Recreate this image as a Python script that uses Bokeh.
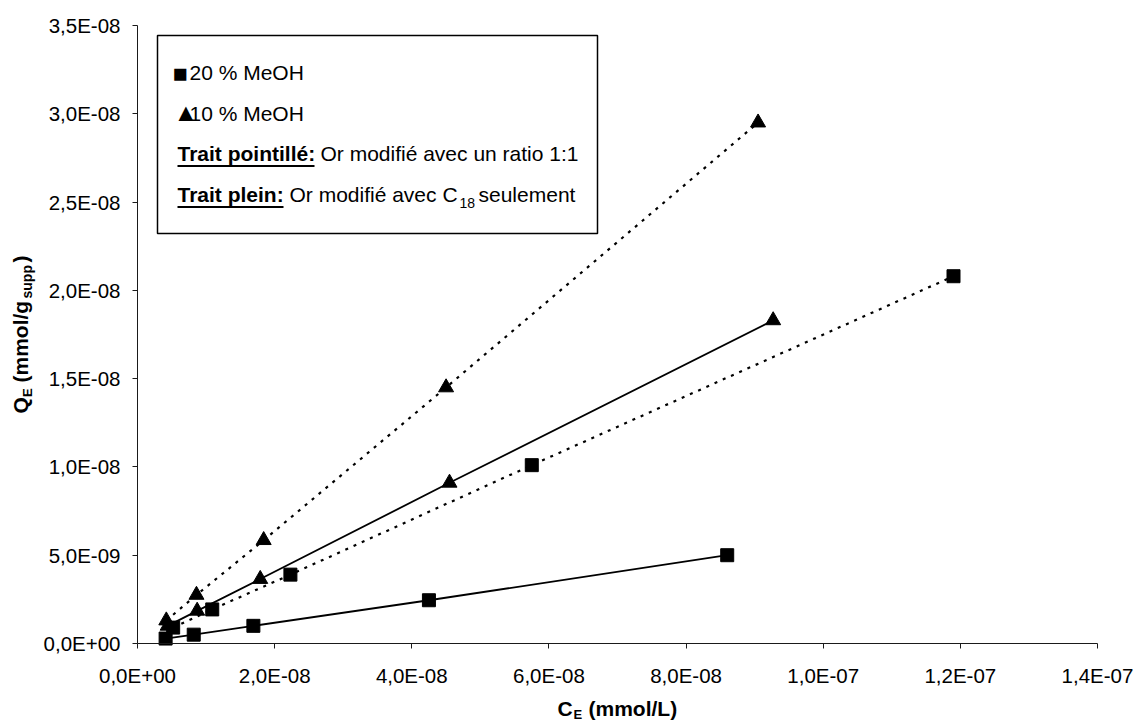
import math

from bokeh.plotting import figure
from bokeh.models import (Range1d, FixedTicker, CustomJSTickFormatter, Label,
                          BoxAnnotation)
from bokeh.embed import file_html
from bokeh.resources import INLINE

# Adsorption isotherms: equilibrium concentration C_E (mmol/L) vs Q_E (mmol/g_supp)
# 20 % MeOH (squares), gold modified with C18 only (solid line)
sq_c18_ce = [4.1e-9, 8.2e-9, 1.69e-8, 4.25e-8, 8.6e-8]
sq_c18_qe = [2.8e-10, 5.0e-10, 1.0e-9, 2.45e-9, 5.0e-9]
# 20 % MeOH (squares), gold modified with a 1:1 ratio (dotted line)
sq_mix_ce = [5.2e-9, 1.09e-8, 2.23e-8, 5.75e-8, 1.19e-7]
sq_mix_qe = [9.0e-10, 1.93e-9, 3.9e-9, 1.01e-8, 2.08e-8]
# 10 % MeOH (triangles), gold modified with C18 only (solid line)
tri_c18_ce = [4.4e-9, 8.7e-9, 1.79e-8, 4.55e-8, 9.27e-8]
tri_c18_qe = [1.0e-9, 1.85e-9, 3.65e-9, 9.1e-9, 1.83e-8]
# 10 % MeOH (triangles), gold modified with a 1:1 ratio (dotted line)
tri_mix_ce = [4.2e-9, 8.6e-9, 1.84e-8, 4.5e-8, 9.05e-8]
tri_mix_qe = [1.3e-9, 2.75e-9, 5.85e-9, 1.45e-8, 2.95e-8]

x_ticks = [0.0, 2e-8, 4e-8, 6e-8, 8e-8, 1e-7, 1.2e-7, 1.4e-7]
x_tick_labels = ["0,0E+00", "2,0E-08", "4,0E-08", "6,0E-08", "8,0E-08",
                 "1,0E-07", "1,2E-07", "1,4E-07"]
y_ticks = [0.0, 5e-9, 1e-8, 1.5e-8, 2e-8, 2.5e-8, 3e-8, 3.5e-8]
y_tick_labels = ["0,0E+00", "5,0E-09", "1,0E-08", "1,5E-08", "2,0E-08",
                 "2,5E-08", "3,0E-08", "3,5E-08"]

FONT = "Liberation Sans"
W, H = 1133, 722
# pixel box of the axes inside the canvas
AX_L, AX_R, AX_T, AX_B = 137, 1097, 25, 643

x0, x1 = x_ticks[0], x_ticks[-1]
y0, y1 = y_ticks[0], y_ticks[-1]
xs_per_px = (x1 - x0) / (AX_R - AX_L)
ys_per_px = (y1 - y0) / (AX_B - AX_T)

# The frame spans the whole canvas; the axes sit at fixed locations inside it
# so that the titles and legend can be placed freely around them.
p = figure(width=W, height=H, output_backend="svg", toolbar_location=None,
           x_range=Range1d(x0 - AX_L * xs_per_px, x1 + (W - AX_R) * xs_per_px),
           y_range=Range1d(y0 - (H - AX_B) * ys_per_px, y1 + AX_T * ys_per_px),
           min_border=0)
p.outline_line_color = None
p.grid.visible = False
p.background_fill_color = "white"
p.border_fill_color = "white"

label_code = """
let best = 0;
for (let i = 1; i < tick_vals.length; i++) {
  if (Math.abs(tick_vals[i] - tick) < Math.abs(tick_vals[best] - tick)) best = i;
}
return tick_text[best];
"""

for ax, vals, texts, standoff, loc in (
        (p.xaxis[0], x_ticks, x_tick_labels, 15, y0),
        (p.yaxis[0], y_ticks, y_tick_labels, 12, x0)):
    ax.fixed_location = loc
    ax.bounds = (vals[0], vals[-1])
    ax.ticker = FixedTicker(ticks=vals)
    ax.formatter = CustomJSTickFormatter(args=dict(tick_vals=vals, tick_text=texts),
                                         code=label_code)
    ax.axis_line_color = "#1a1a1a"
    ax.axis_line_width = 1
    ax.major_tick_line_color = "#1a1a1a"
    ax.major_tick_out = 5
    ax.major_tick_in = 0
    ax.minor_tick_out = 0
    ax.minor_tick_in = 0
    ax.major_label_text_font = FONT
    ax.major_label_text_font_size = "20.5px"
    ax.major_label_text_color = "black"
    ax.major_label_standoff = standoff

DOT = "3 6"
p.line(sq_c18_ce, sq_c18_qe, line_color="black", line_width=1.8)
p.line(tri_c18_ce, tri_c18_qe, line_color="black", line_width=1.8)
p.line(sq_mix_ce, sq_mix_qe, line_color="black", line_width=2.2, line_dash=DOT)
p.line(tri_mix_ce, tri_mix_qe, line_color="black", line_width=2.2, line_dash=DOT)

for xs, ys in ((sq_c18_ce, sq_c18_qe), (sq_mix_ce, sq_mix_qe)):
    p.scatter(xs, ys, marker="square", size=13, fill_color="black",
              line_color="black")
for xs, ys in ((tri_c18_ce, tri_c18_qe), (tri_mix_ce, tri_mix_qe)):
    p.scatter(xs, ys, marker="triangle", size=15, fill_color="black",
              line_color="black")

BASE_SHIFT = 0.38  # em correction between requested and drawn baseline


def text_at(cx, cy, text, size=21, bold=False, angle=0.0):
    """Place a text run at canvas pixel (cx, cy), cy being the baseline."""
    d = BASE_SHIFT * size
    if angle:
        cx -= d
    else:
        cy -= d
    p.add_layout(Label(x=cx, y=H - cy, x_units="screen", y_units="screen",
                       text=text, angle=angle, text_font=FONT,
                       text_font_size=f"{size}px",
                       text_font_style="bold" if bold else "normal",
                       text_color="black", text_align="left",
                       text_baseline="alphabetic"))


def box_at(l, t, r, b, **kw):
    p.add_layout(BoxAnnotation(left=l, right=r, top=H - t, bottom=H - b,
                               left_units="screen", right_units="screen",
                               top_units="screen", bottom_units="screen", **kw))


# legend frame
box_at(157, 35, 597, 233, fill_color="white", fill_alpha=1.0,
       line_color="black", line_alpha=1.0, line_width=1.5)

text_at(172, 81.5, "\u25A0", size=25)
text_at(189, 80, "20 % MeOH")
text_at(173, 121, "\u25B2", size=25)
text_at(189, 121, "10 % MeOH")

text_at(177, 161, "Trait pointillé:", bold=True)
box_at(177, 164.5, 314, 166.5, fill_color="black", fill_alpha=1.0,
       line_color=None)
text_at(320, 161, "Or modifié avec un ratio 1:1")

text_at(177, 202, "Trait plein:", bold=True)
box_at(177, 205.5, 283, 207.5, fill_color="black", fill_alpha=1.0,
       line_color=None)
text_at(289, 202, "Or modifié avec C")
text_at(459, 208, "18", size=14)
text_at(478, 202, "seulement")

# x axis title: C_E (mmol/L)
text_at(557, 716, "C", bold=True)
text_at(573, 719, "E", size=13, bold=True)
text_at(588, 716, "(mmol/L)", bold=True)

# y axis title: Q_E (mmol/g_supp), reading upwards
UP = math.pi / 2
text_at(28, 413, "Q", bold=True, angle=UP)
text_at(32, 396.5, "E", size=13, bold=True, angle=UP)
text_at(28, 382, "(mmol/g", bold=True, angle=UP)
text_at(32, 298, "supp", size=14, bold=True, angle=UP)
text_at(28, 262, ")", bold=True, angle=UP)

open("out.html", "w").write(file_html(p, INLINE))
